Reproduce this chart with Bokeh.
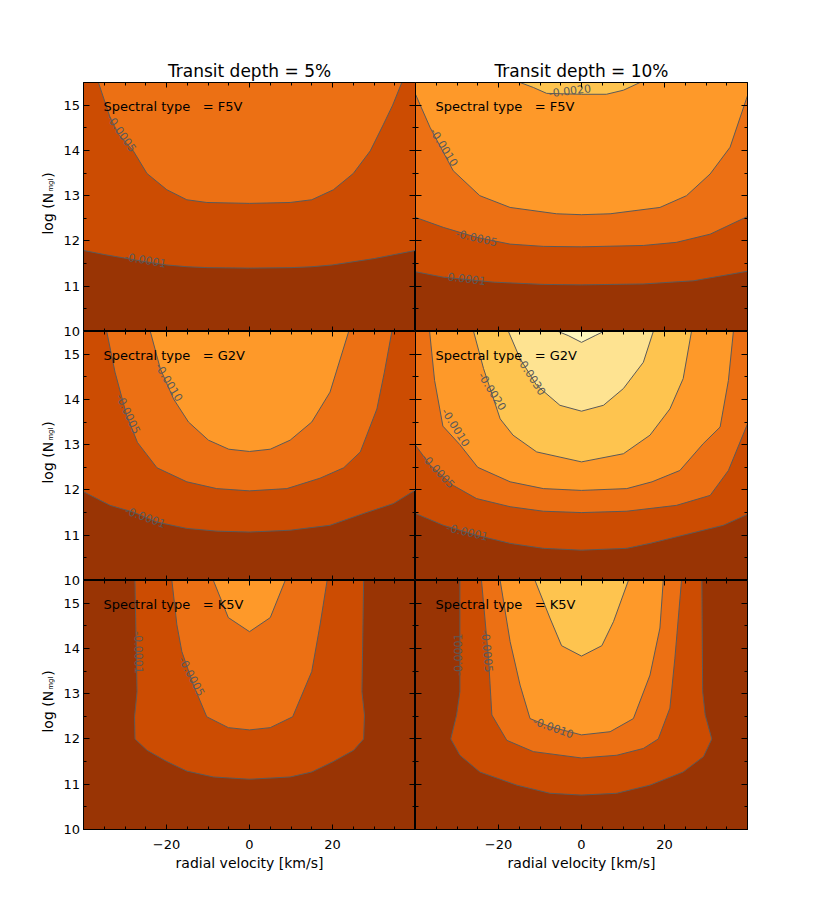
import math
from bokeh.plotting import figure
from bokeh.layouts import gridplot, row
from bokeh.models import Range1d, LinearAxis, FixedTicker, Label
from bokeh.embed import file_html
from bokeh.resources import INLINE
from bokeh.core.properties import value

# ---------------- axes / categories ----------------
X_RANGE = (-40, 40)
Y_RANGE = (10, 15.5)
X_TICKS = [-20, 0, 20]
X_TICK_LABELS = {-20: "\u221220", 0: "0", 20: "20"}
X_MINOR = [-35, -30, -25, -15, -10, -5, 5, 10, 15, 25, 30, 35]
Y_TICKS = [10, 11, 12, 13, 14, 15]
Y_MINOR = [10.5, 11.5, 12.5, 13.5, 14.5]

DEPTHS = ["5%", "10%"]
SPECTRAL_TYPES = ["F5V", "G2V", "K5V"]
LEVELS = [-0.0001, -0.0005, -0.0010, -0.0020, -0.0030, -0.0040]

# ---------------- contour lines ----------------
# F5V, depth 5%
F5V_5_L1_X = [-40, -35, -30, -25, -20, -15, -10, 0, 10, 15, 20, 25, 30, 35, 40]
F5V_5_L1_Y = [11.79, 11.70, 11.62, 11.54, 11.47, 11.43, 11.41, 11.40, 11.41, 11.43, 11.47, 11.54, 11.61, 11.70, 11.79]
F5V_5_L2_X = [-36.4, -33.6, -31.5, -28.0, -24.7, -19.9, -15.1, -10.3, 0, 9.8, 15.0, 20.2, 25.0, 29.1, 32.3, 34.5, 36.7]
F5V_5_L2_Y = [15.5, 14.73, 14.35, 13.99, 13.49, 13.13, 12.91, 12.85, 12.83, 12.85, 12.91, 13.13, 13.49, 13.99, 14.58, 15.0, 15.5]

# F5V, depth 10%
F5V_10_L1_X = [-40, -33.3, -21.2, -9.2, 0, 14.9, 27.0, 40]
F5V_10_L1_Y = [11.32, 11.20, 11.09, 11.04, 11.03, 11.05, 11.12, 11.33]
F5V_10_L2_X = [-40, -33.3, -25.3, -17.2, -9.2, 0, 14.9, 22.9, 31.0, 40]
F5V_10_L2_Y = [12.52, 12.30, 12.08, 11.93, 11.88, 11.87, 11.90, 11.97, 12.15, 12.54]
F5V_10_L3_X = [-40, -36.5, -30.9, -24.5, -17.2, -6.0, 0, 6.9, 18.9, 25.3, 31.0, 35.8, 40]
F5V_10_L3_Y = [15.24, 14.51, 13.55, 13.00, 12.74, 12.60, 12.58, 12.60, 12.74, 13.00, 13.48, 14.07, 15.21]
F5V_10_L4_X = [-14.8, -11.6, -8.4, 0, 6.0, 10.1, 14.1]
F5V_10_L4_Y = [15.5, 15.39, 15.26, 15.24, 15.24, 15.33, 15.5]

# G2V, depth 5%
G2V_5_L1_X = [-40, -33.6, -28.0, -22.3, -15.1, -7.9, 0, 9.8, 19.4, 27.5, 34.7, 40]
G2V_5_L1_Y = [11.96, 11.66, 11.51, 11.29, 11.15, 11.09, 11.07, 11.11, 11.22, 11.48, 11.70, 12.00]
G2V_5_L2_X = [-34.4, -32.4, -29.6, -27.0, -22.3, -15.1, -7.9, 0, 9.0, 17.0, 22.7, 26.7, 30.7, 32.5, 34.3]
G2V_5_L2_Y = [15.5, 14.60, 13.65, 13.05, 12.49, 12.18, 12.03, 11.98, 12.03, 12.26, 12.49, 12.84, 13.79, 14.60, 15.5]
G2V_5_L3_X = [-23.9, -21.5, -18.3, -14.7, -9.9, -5.0, 0, 5.0, 9.8, 15.0, 19.4, 23.9]
G2V_5_L3_Y = [15.5, 14.68, 14.01, 13.50, 13.10, 12.90, 12.85, 12.90, 13.10, 13.50, 14.16, 15.5]

# G2V, depth 10%
G2V_10_L1_X = [-40, -33.3, -25.3, -17.2, -9.2, 0, 10.9, 16.5, 24.5, 34.2, 40]
G2V_10_L1_Y = [11.48, 11.22, 11.00, 10.82, 10.71, 10.67, 10.71, 10.82, 11.00, 11.22, 11.46]
G2V_10_L2_X = [-40, -36.5, -30.9, -25.3, -17.2, -9.2, 0, 10.9, 22.9, 31.0, 35.4, 40]
G2V_10_L2_Y = [12.99, 12.55, 12.10, 11.81, 11.63, 11.53, 11.50, 11.53, 11.66, 11.88, 12.43, 13.46]
G2V_10_L3_X = [-36.6, -35.4, -33.4, -29.3, -25.0, -17.2, -9.2, 0, 10.9, 17.0, 23.7, 29.3, 33.4, 35.4, 36.6]
G2V_10_L3_Y = [15.5, 14.42, 13.41, 13.00, 12.50, 12.18, 12.03, 11.99, 12.03, 12.18, 12.43, 13.02, 13.39, 14.42, 15.5]
G2V_10_L4_X = [-26.0, -23.6, -19.6, -16.5, -10.8, 0, 10.1, 16.5, 21.3, 24.5, 26.5]
G2V_10_L4_Y = [15.5, 14.68, 13.57, 13.21, 12.84, 12.62, 12.80, 13.21, 13.79, 14.46, 15.5]
G2V_10_L5_X = [-17.6, -14.8, -10.8, -5.2, 0, 5.3, 10.1, 14.9, 17.3]
G2V_10_L5_Y = [15.5, 14.90, 14.31, 13.87, 13.74, 13.87, 14.24, 14.82, 15.5]
G2V_10_L6_X = [-5.6, -3.2, 0, 3.3, 5.3]
G2V_10_L6_Y = [15.5, 15.41, 15.26, 15.41, 15.5]

# K5V, depth 5%
K5V_5_L1_X = [-27.6, -27.1, -27.7, -27.6, -24.7, -19.9, -15.1, -8.7, 0, 9.8, 15.0, 20.2, 25.1, 27.5, 27.7, 27.1, 27.5]
K5V_5_L1_Y = [15.5, 13.04, 12.49, 12.00, 11.75, 11.50, 11.29, 11.16, 11.11, 11.16, 11.27, 11.50, 11.75, 12.00, 12.53, 13.04, 15.5]
K5V_5_L2_X = [-18.7, -17.5, -16.3, -13.5, -10.3, -5.1, 0, 5.0, 10.4, 15.0, 17.0, 18.7]
K5V_5_L2_Y = [15.5, 14.52, 13.93, 13.19, 12.49, 12.25, 12.20, 12.25, 12.49, 13.49, 14.52, 15.5]
K5V_5_L3_X = [-8.7, -5.1, 0, 5.0, 8.6]
K5V_5_L3_Y = [15.5, 14.68, 14.37, 14.68, 15.5]

# K5V, depth 10%
K5V_10_L1_X = [-29.3, -29.3, -30.1, -31.5, -29.3, -24.5, -15.6, -7.6, 0, 8.5, 16.5, 24.5, 29.4, 31.4, 29.8, 29.2, 29.0]
K5V_10_L1_Y = [15.5, 13.04, 12.53, 12.00, 11.64, 11.27, 10.98, 10.80, 10.76, 10.80, 10.98, 11.27, 11.61, 12.00, 12.53, 13.04, 15.5]
K5V_10_L2_X = [-24.1, -22.4, -21.6, -18.0, -11.6, 0, 8.5, 14.9, 18.5, 21.3, 22.5, 24.1]
K5V_10_L2_Y = [15.5, 13.78, 12.53, 11.97, 11.72, 11.58, 11.64, 11.79, 12.00, 12.68, 13.78, 15.5]
K5V_10_L3_X = [-19.6, -17.2, -14.8, -12.4, -7.6, 0, 6.9, 12.5, 16.5, 18.9, 19.7]
K5V_10_L3_Y = [15.5, 14.15, 13.19, 12.45, 12.27, 12.09, 12.16, 12.45, 13.41, 14.45, 15.5]
K5V_10_L4_X = [-11.2, -7.6, -4.8, 0, 4.9, 7.7, 11.3]
K5V_10_L4_Y = [15.5, 14.67, 14.06, 13.83, 14.06, 14.59, 15.5]

# contour label placements: (text, x, y, angle in degrees)
F5V_5_LABELS = [("-0.0005", -30.8, 14.38, -55), ("-0.0001", -25.1, 11.58, -10)]
F5V_10_LABELS = [("-0.0010", -33.1, 14.07, -58), ("-0.0005", -25.3, 12.07, -13),
                 ("-0.0001", -28.1, 11.17, -7), ("-0.0020", -2.8, 15.32, 7)]
G2V_5_LABELS = [("-0.0010", -19.4, 14.38, -59), ("-0.0005", -29.2, 13.68, -65),
                ("-0.0001", -25.1, 11.40, -20)]
G2V_10_LABELS = [("-0.0030", -12.0, 14.51, -57), ("-0.0020", -21.5, 14.18, -58),
                 ("-0.0010", -30.3, 13.38, -58), ("-0.0005", -34.5, 12.42, -47),
                 ("-0.0001", -27.5, 11.07, -13)]
K5V_5_LABELS = [("-0.0001", -26.7, 13.91, -89), ("-0.0005", -13.9, 13.38, -62)]
K5V_10_LABELS = [("-0.0001", -29.7, 13.86, 90), ("-0.0005", -22.7, 13.94, -85),
                 ("-0.0010", -6.8, 12.25, -20)]

PANELS = [
    [("F5V", [(F5V_5_L1_X, F5V_5_L1_Y), (F5V_5_L2_X, F5V_5_L2_Y)], F5V_5_LABELS),
     ("F5V", [(F5V_10_L1_X, F5V_10_L1_Y), (F5V_10_L2_X, F5V_10_L2_Y),
              (F5V_10_L3_X, F5V_10_L3_Y), (F5V_10_L4_X, F5V_10_L4_Y)], F5V_10_LABELS)],
    [("G2V", [(G2V_5_L1_X, G2V_5_L1_Y), (G2V_5_L2_X, G2V_5_L2_Y), (G2V_5_L3_X, G2V_5_L3_Y)], G2V_5_LABELS),
     ("G2V", [(G2V_10_L1_X, G2V_10_L1_Y), (G2V_10_L2_X, G2V_10_L2_Y), (G2V_10_L3_X, G2V_10_L3_Y),
              (G2V_10_L4_X, G2V_10_L4_Y), (G2V_10_L5_X, G2V_10_L5_Y), (G2V_10_L6_X, G2V_10_L6_Y)],
      G2V_10_LABELS)],
    [("K5V", [(K5V_5_L1_X, K5V_5_L1_Y), (K5V_5_L2_X, K5V_5_L2_Y), (K5V_5_L3_X, K5V_5_L3_Y)], K5V_5_LABELS),
     ("K5V", [(K5V_10_L1_X, K5V_10_L1_Y), (K5V_10_L2_X, K5V_10_L2_Y),
              (K5V_10_L3_X, K5V_10_L3_Y), (K5V_10_L4_X, K5V_10_L4_Y)], K5V_10_LABELS)],
]

# ---------------- styling / layout ----------------
FONT = "DejaVu Sans"
OUTER_COLOR = "#993404"
LEVEL_COLORS = ["#cc4c02", "#ec7014", "#fe9929", "#fec44f", "#fee391", "#fff7bc"]
LINE_COLOR = "#5a5a5a"
FW, FH = 332, 249
TOP_B, BOT_B = 82, 52
LAB_AXIS_W = 25          # width taken by the y tick labels
LAB_FRAME_W = 83 - LAB_AXIS_W
NROWS = len(PANELS)
SPAN = Y_RANGE[1] - Y_RANGE[0]


def add_axes(p, label_x):
    for side in ("left", "right", "below", "above"):
        is_x = side in ("below", "above")
        ax = LinearAxis(ticker=FixedTicker(ticks=X_TICKS if is_x else Y_TICKS,
                                           minor_ticks=X_MINOR if is_x else Y_MINOR))
        ax.axis_line_color = "black"
        ax.major_tick_line_color = "black"
        ax.minor_tick_line_color = "black"
        ax.major_tick_out = 0
        ax.minor_tick_out = 0
        ax.major_tick_in = 5 if is_x else 6
        ax.minor_tick_in = 3
        if side == "below" and label_x:
            ax.major_label_text_font = FONT
            ax.major_label_text_font_size = "13px"
            ax.major_label_text_color = "black"
            ax.major_label_standoff = 10
            ax.major_label_overrides = X_TICK_LABELS
            ax.axis_label = "radial velocity [km/s]"
            ax.axis_label_text_font = FONT
            ax.axis_label_text_font_size = "14px"
            ax.axis_label_text_font_style = "normal"
            ax.axis_label_text_color = "black"
            ax.axis_label_standoff = 3
        else:
            ax.major_label_text_font_size = "0px"
            ax.major_label_standoff = 0
            ax.major_label_text_alpha = 0
        p.add_layout(ax, side)


# ---- left column: y tick labels and y titles for the three stacked rows ----
stack_ticks = []
stack_labels = {}
for k in range(NROWS):
    for v in Y_TICKS:
        t = v + SPAN * k
        stack_ticks.append(t)
        stack_labels[t] = str(v)

ylab = figure(x_range=Range1d(0, LAB_FRAME_W),
              y_range=Range1d(Y_RANGE[0], Y_RANGE[0] + SPAN * NROWS),
              frame_width=LAB_FRAME_W, frame_height=FH * NROWS,
              min_border_left=0, min_border_right=LAB_AXIS_W,
              min_border_top=TOP_B, min_border_bottom=BOT_B,
              output_backend="svg", toolbar_location=None,
              x_axis_location=None, y_axis_location=None,
              outline_line_color=None, background_fill_color="white",
              border_fill_color="white")
ylab.grid.visible = False
lab_ax = LinearAxis(ticker=FixedTicker(ticks=stack_ticks, minor_ticks=[]),
                    major_label_overrides=stack_labels)
lab_ax.axis_line_color = None
lab_ax.major_tick_line_color = None
lab_ax.major_tick_in = 0
lab_ax.major_tick_out = 0
lab_ax.major_label_standoff = 5
lab_ax.major_label_text_font = FONT
lab_ax.major_label_text_font_size = "13px"
lab_ax.major_label_text_color = "black"
ylab.add_layout(lab_ax, "right")

px_per_unit = FH / SPAN
for k in range(NROWS):
    y_end = Y_RANGE[1] + SPAN * k - 110.3 / px_per_unit
    ylab.add_layout(Label(x=47, y=y_end, text="log (N", angle=math.pi / 2,
                          text_font=FONT, text_font_size="14px", text_align="right",
                          text_baseline="alphabetic", text_color="black"))
    ylab.add_layout(Label(x=50, y=y_end + 1 / px_per_unit, text="mgI", angle=math.pi / 2,
                          text_font=FONT, text_font_size="7px", text_align="left",
                          text_baseline="alphabetic", text_color="black"))
    ylab.add_layout(Label(x=47, y=y_end + 15 / px_per_unit, text=")", angle=math.pi / 2,
                          text_font=FONT, text_font_size="14px", text_align="left",
                          text_baseline="alphabetic", text_color="black"))

# ---- the six contour panels ----
rows = []
for r, prow_spec in enumerate(PANELS):
    prow = []
    for c, (stype, contours, clabels) in enumerate(prow_spec):
        p = figure(x_range=Range1d(*X_RANGE), y_range=Range1d(*Y_RANGE),
                   frame_width=FW, frame_height=FH,
                   output_backend="svg", toolbar_location=None,
                   x_axis_location=None, y_axis_location=None,
                   title=(f"Transit depth = {DEPTHS[c]}" if r == 0 else None),
                   min_border_left=0,
                   min_border_right=0 if c == 0 else 12,
                   min_border_top=TOP_B if r == 0 else 0,
                   min_border_bottom=BOT_B if r == NROWS - 1 else 0,
                   background_fill_color=OUTER_COLOR, border_fill_color="white",
                   outline_line_color="black")
        p.grid.visible = False
        if r == 0:
            p.title.align = "center"
            p.title.text_font = FONT
            p.title.text_font_size = "17px"
            p.title.text_font_style = "normal"
            p.title.text_color = "black"
            p.title.standoff = 4

        ytop = Y_RANGE[1]
        for (cx, cy), color in zip(contours, LEVEL_COLORS):
            p.patch(list(cx) + [cx[-1], cx[0]], list(cy) + [ytop, ytop],
                    fill_color=color, line_color=None)
        for cx, cy in contours:
            p.line(cx, cy, line_color=LINE_COLOR, line_width=1)

        p.text(x=[l[1] for l in clabels], y=[l[2] for l in clabels],
               text=[l[0] for l in clabels],
               angle=[math.radians(l[3]) for l in clabels],
               text_font=value(FONT), text_font_size="11px", text_color=LINE_COLOR,
               text_align="center", text_baseline="middle")

        p.add_layout(Label(x=-35.2, y=14.97,
                           text=f"Spectral type\u00a0\u00a0\u00a0= {stype}",
                           text_font=FONT, text_font_size="13px", text_color="black",
                           text_baseline="alphabetic", text_align="left"))

        add_axes(p, label_x=(r == NROWS - 1))
        prow.append(p)
    rows.append(prow)

grid = gridplot(rows, toolbar_location=None)
layout = row(ylab, grid)
open("out.html", "w").write(file_html(layout, INLINE))
